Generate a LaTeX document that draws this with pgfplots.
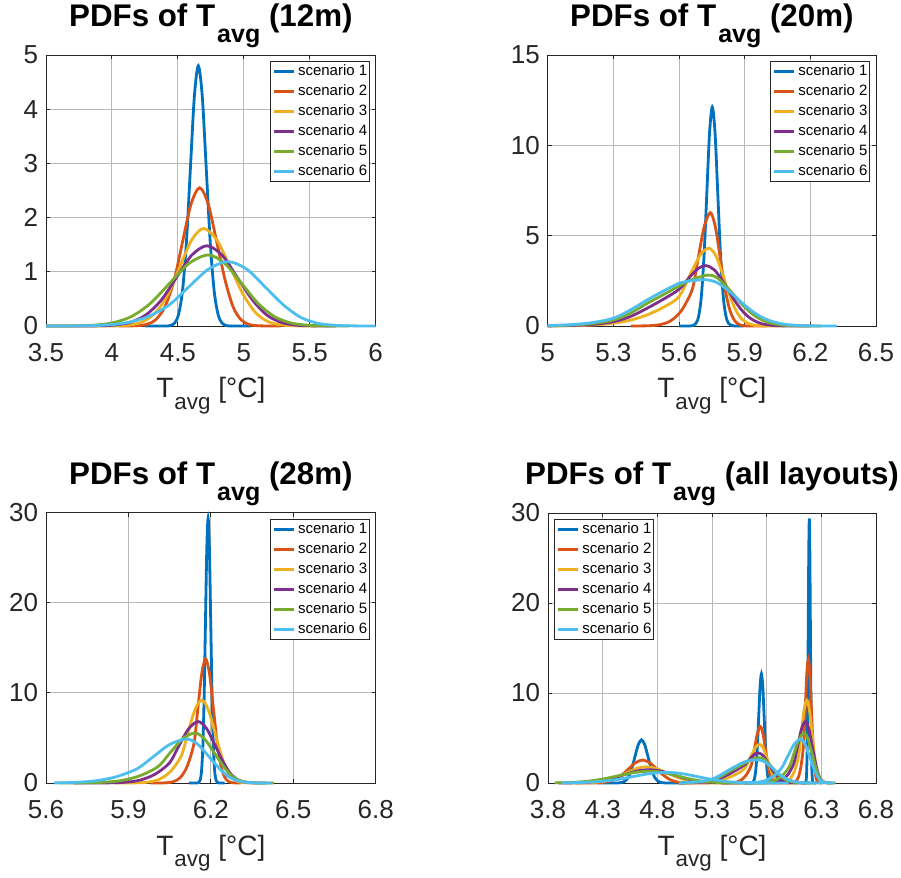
\documentclass[border=0pt]{standalone}
\usepackage{fontspec}
\setmainfont{Liberation Sans}
\usepackage{pgfplots}
\usepackage{pgfplotstable}
\pgfplotsset{compat=1.18}
\definecolor{cA}{RGB}{0,114,189}
\definecolor{cB}{RGB}{217,83,25}
\definecolor{cC}{RGB}{237,177,32}
\definecolor{cD}{RGB}{126,47,142}
\definecolor{cE}{RGB}{119,172,48}
\definecolor{cF}{RGB}{77,190,238}
\definecolor{axc}{RGB}{38,38,38}

% ---------- 12 m ----------
\pgfplotstableread[row sep=\\]{x y\\4.25 0\\4.415 0.001\\4.445 0.011\\4.475 0.053\\4.505 0.211\\4.535 0.649\\4.565 1.559\\4.595 2.911\\4.625 4.236\\4.655 4.80\\4.685 4.236\\4.715 2.911\\4.745 1.559\\4.775 0.649\\4.805 0.211\\4.835 0.053\\4.865 0.011\\4.895 0.001\\5.05 0\\}\PaA
\pgfplotstableread[row sep=\\]{x y\\4.05 0\\4.120 0.001\\4.190 0.006\\4.260 0.028\\4.330 0.112\\4.400 0.345\\4.470 0.828\\4.535 1.547\\4.600 2.250\\4.665 2.55\\4.730 2.250\\4.795 1.547\\4.860 0.828\\4.920 0.345\\4.980 0.112\\5.040 0.028\\5.100 0.006\\5.160 0.001\\5.28 0\\}\PaB
\pgfplotstableread[row sep=\\]{x y\\3.5 0\\3.950 0.0005\\4.045 0.004\\4.140 0.020\\4.235 0.079\\4.330 0.244\\4.425 0.584\\4.515 1.092\\4.605 1.589\\4.695 1.80\\4.795 1.589\\4.895 1.092\\4.995 0.584\\5.090 0.244\\5.185 0.079\\5.280 0.020\\5.375 0.004\\5.470 0.0005\\5.55 0\\}\PaC
\pgfplotstableread[row sep=\\]{x y\\3.5 0\\3.775 0.0004\\3.895 0.003\\4.015 0.016\\4.135 0.065\\4.255 0.200\\4.375 0.481\\4.490 0.898\\4.605 1.306\\4.72 1.48\\4.835 1.306\\4.950 0.898\\5.065 0.481\\5.175 0.200\\5.285 0.065\\5.395 0.016\\5.505 0.003\\5.615 0.0004\\5.7 0\\}\PaD
\pgfplotstableread[row sep=\\]{x y\\3.5 0\\3.570 0.0004\\3.715 0.003\\3.860 0.015\\4.005 0.058\\4.150 0.177\\4.295 0.425\\4.440 0.795\\4.585 1.156\\4.73 1.31\\4.855 1.156\\4.980 0.795\\5.105 0.425\\5.230 0.177\\5.355 0.058\\5.480 0.015\\5.605 0.003\\5.730 0.0004\\5.8 0\\}\PaE
\pgfplotstableread[row sep=\\]{x y\\3.5 0\\3.582 0.0004\\3.752 0.003\\3.922 0.013\\4.092 0.052\\4.262 0.161\\4.432 0.385\\4.582 0.720\\4.732 1.048\\4.882 1.187\\5.022 1.048\\5.162 0.720\\5.302 0.385\\5.430 0.161\\5.557 0.052\\5.685 0.013\\5.812 0.003\\5.940 0.0004\\6.0 0\\}\PaF
% ---------- 20 m ----------
\pgfplotstableread[row sep=\\]{x y\\5.6 0\\5.652 0.004\\5.6645 0.027\\5.677 0.135\\5.6895 0.532\\5.702 1.640\\5.7145 3.935\\5.727 7.351\\5.7395 10.696\\5.752 12.12\\5.7645 10.696\\5.777 7.351\\5.7895 3.935\\5.802 1.640\\5.8145 0.532\\5.827 0.135\\5.8395 0.027\\5.852 0.004\\5.9 0\\}\PbA
\pgfplotstableread[row sep=\\]{x y\\5.38 0\\5.4105 0.002\\5.4605 0.014\\5.5105 0.069\\5.5605 0.274\\5.6105 0.846\\5.6605 2.029\\5.688 3.791\\5.7155 5.516\\5.743 6.27\\5.7655 5.516\\5.788 3.791\\5.8105 2.029\\5.833 0.846\\5.8555 0.274\\5.878 0.069\\5.9005 0.014\\5.923 0.002\\6.0 0\\}\PbB
\pgfplotstableread[row sep=\\]{x y\\5.0 0.003\\5.1 0.015\\5.2 0.05\\5.3 0.15\\5.377 0.32\\5.454 0.61\\5.531 1.05\\5.6 1.62\\5.65 2.83\\5.70 3.98\\5.738 4.30\\5.77 3.85\\5.80 2.84\\5.83 1.73\\5.86 0.86\\5.89 0.35\\5.93 0.08\\5.97 0.012\\6.08 0\\}\PbC
\pgfplotstableread[row sep=\\]{x y\\5.0 0.005\\5.1 0.025\\5.2 0.08\\5.3 0.24\\5.377 0.52\\5.454 0.98\\5.531 1.5\\5.6 2.03\\5.654 2.78\\5.69 3.2\\5.723 3.34\\5.76 3.12\\5.80 2.48\\5.84 1.68\\5.88 0.97\\5.92 0.48\\5.96 0.2\\6.0 0.07\\6.05 0.015\\6.12 0.002\\6.2 0\\}\PbD
\pgfplotstableread[row sep=\\]{x y\\5.0 0.012\\5.1 0.045\\5.2 0.13\\5.3 0.33\\5.377 0.7\\5.454 1.25\\5.531 1.75\\5.6 2.21\\5.654 2.55\\5.731 2.82\\5.77 2.70\\5.81 2.27\\5.85 1.73\\5.89 1.17\\5.93 0.71\\5.97 0.39\\6.02 0.155\\6.08 0.04\\6.15 0.006\\6.25 0\\}\PbE
\pgfplotstableread[row sep=\\]{x y\\5.0 0.02\\5.1 0.07\\5.2 0.18\\5.3 0.43\\5.377 0.88\\5.454 1.44\\5.531 1.95\\5.6 2.36\\5.654 2.50\\5.723 2.56\\5.77 2.42\\5.81 2.11\\5.85 1.70\\5.89 1.26\\5.93 0.86\\5.97 0.54\\6.02 0.27\\6.08 0.10\\6.15 0.025\\6.22 0.005\\6.32 0\\}\PbF
% ---------- 28 m ----------
\pgfplotstableread[row sep=\\]{x y\\6.12 0\\6.1516 0.009\\6.1564 0.065\\6.1612 0.326\\6.166 1.291\\6.1708 3.978\\6.1756 9.546\\6.1804 17.831\\6.1852 25.946\\6.19 29.4\\6.1948 25.946\\6.1996 17.831\\6.2044 9.546\\6.2092 3.978\\6.214 1.291\\6.2188 0.326\\6.2236 0.065\\6.2284 0.009\\6.25 0\\}\PcA
\pgfplotstableread[row sep=\\]{x y\\5.98 0\\6.014 0.004\\6.039 0.030\\6.064 0.153\\6.089 0.605\\6.114 1.863\\6.139 4.471\\6.153 8.352\\6.167 12.152\\6.181 13.77\\6.195 12.152\\6.209 8.352\\6.223 4.471\\6.237 1.863\\6.251 0.605\\6.265 0.153\\6.279 0.030\\6.293 0.004\\6.31 0\\}\PcB
\pgfplotstableread[row sep=\\]{x y\\5.85 0\\5.892 0.003\\5.932 0.020\\5.972 0.102\\6.012 0.404\\6.052 1.245\\6.092 2.987\\6.117 5.580\\6.142 8.119\\6.167 9.2\\6.191 8.119\\6.215 5.580\\6.239 2.987\\6.2615 1.245\\6.284 0.404\\6.3065 0.102\\6.329 0.020\\6.3515 0.003\\6.38 0\\}\PcC
\pgfplotstableread[row sep=\\]{x y\\5.7 0\\5.774 0.002\\5.829 0.015\\5.884 0.076\\5.939 0.299\\5.994 0.923\\6.049 2.214\\6.084 4.136\\6.119 6.019\\6.154 6.82\\6.185 6.019\\6.216 4.136\\6.247 2.214\\6.2745 0.923\\6.302 0.299\\6.3295 0.076\\6.357 0.015\\6.3845 0.002\\6.4 0\\}\PcD
\pgfplotstableread[row sep=\\]{x y\\5.65 0\\5.727 0.012\\5.797 0.062\\5.867 0.244\\5.937 0.751\\6.007 1.802\\6.052 3.366\\6.097 4.898\\6.142 5.55\\6.177 4.898\\6.212 3.366\\6.247 1.802\\6.277 0.751\\6.307 0.244\\6.337 0.062\\6.367 0.012\\6.397 0.002\\6.43 0\\}\PcE
\pgfplotstableread[row sep=\\]{x y\\5.63 0.01\\5.692 0.054\\5.772 0.214\\5.852 0.660\\5.932 1.585\\5.992 2.960\\6.052 4.307\\6.112 4.88\\6.152 4.307\\6.192 2.960\\6.232 1.585\\6.267 0.660\\6.302 0.214\\6.337 0.054\\6.372 0.011\\6.407 0.0015\\6.42 0\\}\PcF

\pgfplotsset{
  panel/.style={
    scale only axis, anchor=south west, clip=false,
    axis line style={axc, line width=0.9pt},
    grid=major, major grid style={black!28, line width=0.9pt},
    tick align=inside, major tick length=4pt,
    tick style={axc, line width=0.9pt},
    tick label style={font=\fontsize{26}{30}\selectfont, text=axc},
    /pgf/number format/assume math mode=true,
    xticklabel style={anchor=base, yshift=-35.7pt, inner sep=0pt},
    yticklabel style={anchor=east, xshift=-7.7pt, inner sep=0pt},
    title style={font=\fontsize{31.3}{35}\selectfont\bfseries, at={(0.5,1)}, anchor=base, yshift=22pt},
    xlabel style={font=\fontsize{28}{32}\selectfont, text=axc, at={(0.5,0)}, anchor=base, yshift=-72pt},
    xlabel={T\kern1pt\raisebox{-11.5pt}{\fontsize{22.4}{24}\selectfont avg} [°C]},
    legend style={font=\fontsize{15}{18}\selectfont, draw=axc, line width=0.9pt,
      inner xsep=2pt, inner ysep=3pt, row sep=6pt,
      nodes={inner sep=0pt, text height=11pt, text depth=3pt}},
    legend cell align=left,
    legend image code/.code={\draw[#1, line width=2.8pt] (0pt,0pt) -- (20pt,0pt);},
    /tikz/every odd column/.append style={column sep=3pt},
    every axis plot post/.append style={line width=2.8pt, smooth},
  }
}
\newcommand{\ttl}[1]{PDFs of T\kern2pt\raisebox{-16pt}{\fontsize{25}{27}\selectfont avg} (#1)}

\begin{document}
\begin{tikzpicture}
\useasboundingbox (0,0) rectangle (901pt,877pt);
% ---- panel 1 ----
\begin{axis}[panel, at={(46pt,551pt)}, width=329.7pt, height=271pt,
  xmin=3.5, xmax=6, ymin=0, ymax=5,
  xtick={3.5,4,4.5,5,5.5,6}, ytick={0,1,2,3,4,5},
  title={\ttl{12m}},
  legend style={at={(1,1)}, anchor=north east, xshift=-6pt, yshift=-6pt}]
\addplot[cA] table {\PaA};
\addplot[cB] table {\PaB};
\addplot[cC] table {\PaC};
\addplot[cD] table {\PaD};
\addplot[cE] table {\PaE};
\addplot[cF] table {\PaF};
\legend{scenario 1,scenario 2,scenario 3,scenario 4,scenario 5,scenario 6}
\end{axis}
% ---- panel 2 ----
\begin{axis}[panel, at={(547.7pt,551pt)}, width=328.3pt, height=271pt,
  xmin=5, xmax=6.5, ymin=0, ymax=15,
  xtick={5,5.3,5.6,5.9,6.2,6.5}, ytick={0,5,10,15},
  title={\ttl{20m}},
  legend style={at={(1,1)}, anchor=north east, xshift=-6pt, yshift=-6pt}]
\addplot[cA] table {\PbA};
\addplot[cB] table {\PbB};
\addplot[cC] table {\PbC};
\addplot[cD] table {\PbD};
\addplot[cE] table {\PbE};
\addplot[cF] table {\PbF};
\legend{scenario 1,scenario 2,scenario 3,scenario 4,scenario 5,scenario 6}
\end{axis}
% ---- panel 3 ----
\begin{axis}[panel, at={(46pt,94pt)}, width=329.7pt, height=270.3pt,
  xmin=5.6, xmax=6.8, ymin=0, ymax=30,
  xtick={5.6,5.9,6.2,6.5,6.8}, ytick={0,10,20,30},
  title={\ttl{28m}},
  legend style={at={(1,1)}, anchor=north east, xshift=-6pt, yshift=-6pt}]
\addplot[cA] table {\PcA};
\addplot[cB] table {\PcB};
\addplot[cC] table {\PcC};
\addplot[cD] table {\PcD};
\addplot[cE] table {\PcE};
\addplot[cF] table {\PcF};
\legend{scenario 1,scenario 2,scenario 3,scenario 4,scenario 5,scenario 6}
\end{axis}
% ---- panel 4 ----
\begin{axis}[panel, at={(548pt,94pt)}, width=328pt, height=270pt,
  xmin=3.8, xmax=6.8, ymin=0, ymax=30,
  xtick={3.8,4.3,4.8,5.3,5.8,6.3,6.8}, ytick={0,10,20,30},
  restrict x to domain=3.8:6.8,
  title={\ttl{all layouts}},
  legend style={at={(0,1)}, anchor=north west, xshift=6pt, yshift=-6pt}]
\addplot[cA] table {\PaA};
\addplot[cA, forget plot] table {\PbA};
\addplot[cA, forget plot] table {\PcA};
\addplot[cB] table {\PaB};
\addplot[cB, forget plot] table {\PbB};
\addplot[cB, forget plot] table {\PcB};
\addplot[cC] table {\PaC};
\addplot[cC, forget plot] table {\PbC};
\addplot[cC, forget plot] table {\PcC};
\addplot[cD] table {\PaD};
\addplot[cD, forget plot] table {\PbD};
\addplot[cD, forget plot] table {\PcD};
\addplot[cE] table {\PaE};
\addplot[cE, forget plot] table {\PbE};
\addplot[cE, forget plot] table {\PcE};
\addplot[cF] table {\PaF};
\addplot[cF, forget plot] table {\PbF};
\addplot[cF, forget plot] table {\PcF};
\legend{scenario 1,scenario 2,scenario 3,scenario 4,scenario 5,scenario 6}
\end{axis}
\end{tikzpicture}
\end{document}
